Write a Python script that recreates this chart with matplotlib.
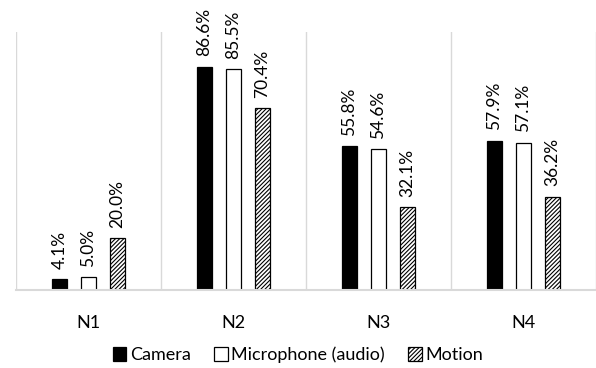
import matplotlib
matplotlib.use("Agg")
import numpy as np
from matplotlib import pyplot as plt
from matplotlib.patches import Patch

plt.rcParams["font.family"] = ["Lato", "DejaVu Sans"]
plt.rcParams["hatch.linewidth"] = 0.8

groups = ["N1", "N2", "N3", "N4"]
series = ["Camera", "Microphone (audio)", "Motion"]
camera = [4.1, 86.6, 55.8, 57.9]
microphone = [5.0, 85.5, 54.6, 57.1]
motion = [20.0, 70.4, 32.1, 36.2]

styles = [
    dict(facecolor="black", edgecolor="black", hatch=None),
    dict(facecolor="white", edgecolor="black", hatch=None),
    dict(facecolor="white", edgecolor="black", hatch="////////"),
]

fig = plt.figure(figsize=(5.96, 3.68), dpi=100)
ax = fig.add_axes([16 / 596, 78 / 368, 580 / 596, 258 / 368])

x = np.arange(len(groups))
width = 0.11
offsets = [-0.2, 0.0, 0.2]

for vals, off, st, name in zip([camera, microphone, motion], offsets, styles, series):
    bars = ax.bar(x + off, vals, width, linewidth=0.9, label=name, **st)
    for b, v in zip(bars, vals):
        ax.text(b.get_x() + b.get_width() / 2, v + 4.0, f"{v:.1f}%",
                rotation=90, ha="center", va="bottom", fontsize=12.5,
                color="black")

ax.set_xlim(-0.5, len(groups) - 0.5)
ax.set_ylim(0, 100)

# category separators
for s in np.arange(-0.5, len(groups) + 0.5, 1):
    ax.axvline(s, color="#d9d9d9", lw=1.0, zorder=0)

for sp in ["top", "right", "left"]:
    ax.spines[sp].set_visible(False)
ax.spines["bottom"].set_color("#d9d9d9")
ax.spines["bottom"].set_linewidth(1.5)
ax.set_yticks([])
ax.set_xticks(x)
ax.set_xticklabels(groups, fontsize=13, color="black")
ax.tick_params(axis="x", length=0, pad=18)

handles = [Patch(**st, linewidth=0.9, label=n) for st, n in zip(styles, series)]
fig.legend(handles=handles, loc="center", bbox_to_anchor=(0.5, 13 / 368),
           ncol=3, frameon=False, fontsize=13, handlelength=0.75,
           handleheight=0.75, handletextpad=0.2, columnspacing=1.3)

fig.savefig("out.png", dpi=100)
